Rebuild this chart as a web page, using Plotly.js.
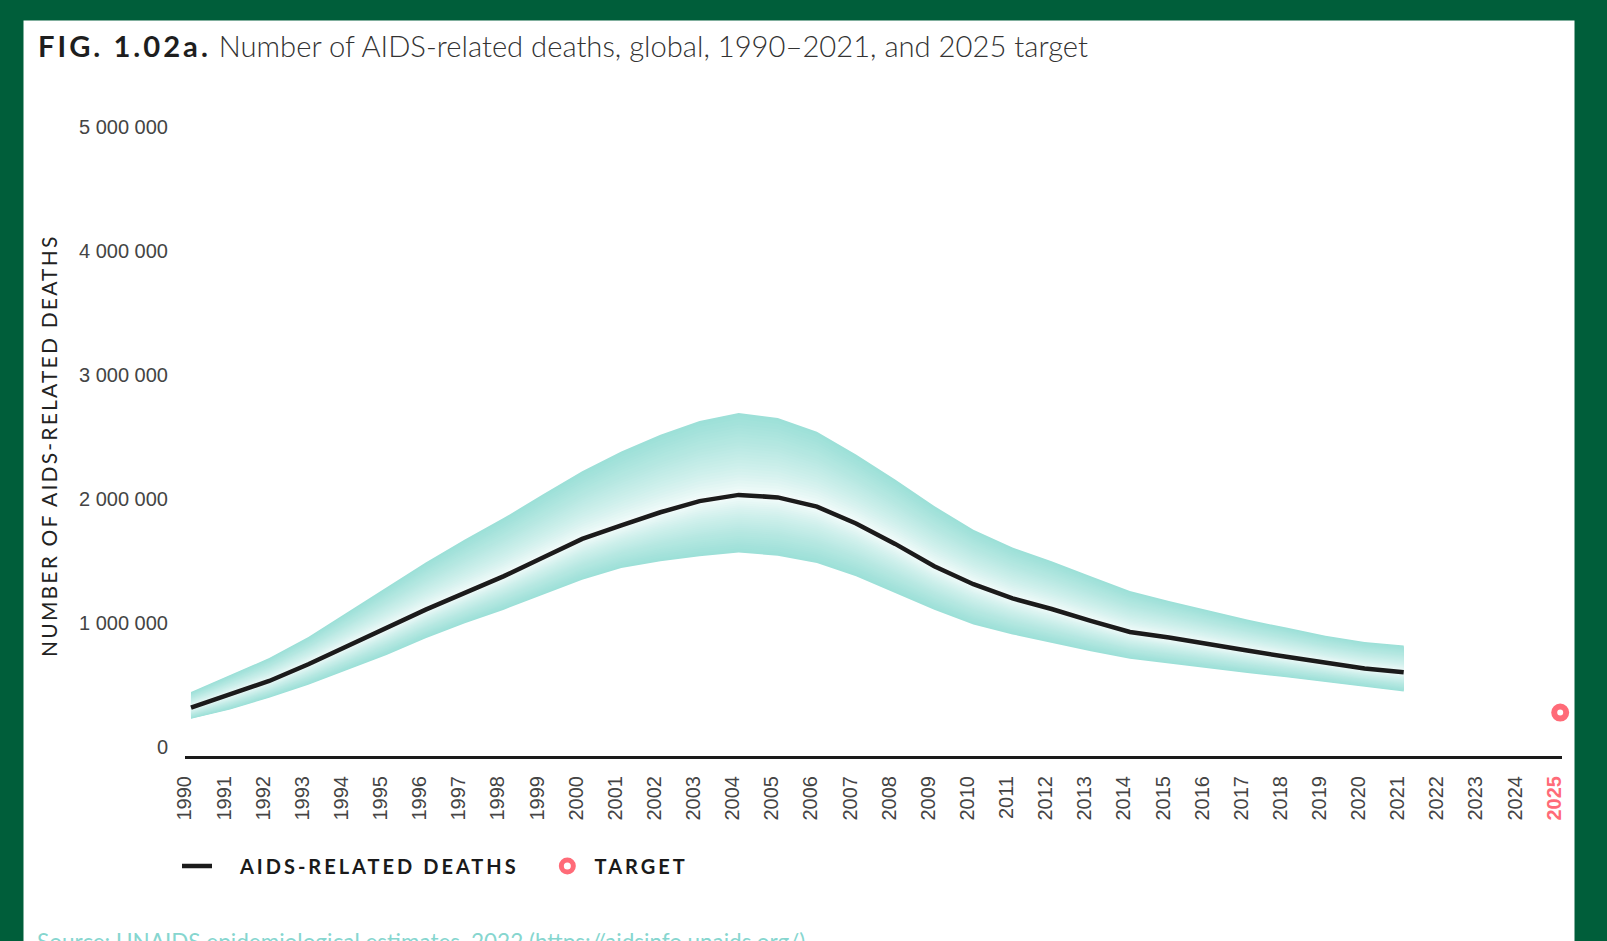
<!DOCTYPE html>
<html>
<head>
<meta charset="utf-8">
<script src="https://cdn.plot.ly/plotly-3.0.1.min.js"></script>
<style>
  html, body { margin: 0; padding: 0; background: #005e3a; }
  #chart { width: 1607px; height: 941px; }
</style>
</head>
<body>
<div id="chart"></div>
<script>
// ---------- DATA ----------
const years = [1990, 1991, 1992, 1993, 1994, 1995, 1996, 1997, 1998, 1999,
               2000, 2001, 2002, 2003, 2004, 2005, 2006, 2007, 2008, 2009,
               2010, 2011, 2012, 2013, 2014, 2015, 2016, 2017, 2018, 2019,
               2020, 2021];
const deaths = [390000, 495000, 605000, 740000, 885000, 1030000, 1180000, 1315000, 1450000, 1600000,
                1750000, 1860000, 1965000, 2055000, 2105000, 2085000, 2010000, 1875000, 1710000, 1530000,
                1385000, 1270000, 1185000, 1090000, 1000000, 955000, 900000, 850000, 800000, 750000,
                705000, 675000];
const deathsUpper = [515000, 650000, 790000, 960000, 1160000, 1360000, 1560000, 1745000, 1920000, 2110000,
                     2295000, 2455000, 2590000, 2700000, 2765000, 2725000, 2615000, 2430000, 2230000, 2015000,
                     1825000, 1680000, 1570000, 1450000, 1330000, 1250000, 1175000, 1100000, 1035000, 970000,
                     920000, 890000];
const deathsLower = [300000, 375000, 470000, 575000, 695000, 815000, 950000, 1070000, 1180000, 1300000,
                     1420000, 1515000, 1570000, 1610000, 1640000, 1615000, 1555000, 1450000, 1315000, 1180000,
                     1060000, 980000, 910000, 845000, 785000, 745000, 710000, 670000, 635000, 600000,
                     560000, 520000];
const extraTickYears = [2022, 2023, 2024, 2025];
const targetYear = [2025];
const targetValue = [350000];
const yTicks = [0, 1000000, 2000000, 3000000, 4000000, 5000000];

// ---------- LAYOUT GEOMETRY ----------
const W = 1607, H = 941;
const M = { l: 185, r: 45, t: 111, b: 185 };
const PW = W - M.l - M.r, PH = H - M.t - M.b;
const px2x = px => (px - M.l) / PW;
const px2y = py => (H - M.b - py) / PH;

const teal = [157, 224, 216];
function mix(s) {
  const f = Math.pow(s, 0.7);
  const c = teal.map(v => Math.round(255 + (v - 255) * f));
  return 'rgb(' + c.join(',') + ')';
}

const traces = [];
const N = 28;
const revYears = years.slice().reverse();
for (let k = 0; k < N; k++) {
  const s = 1 - k / N;
  const up = years.map((_, i) => deaths[i] + (deathsUpper[i] - deaths[i]) * s);
  const lo = years.map((_, i) => deaths[i] - (deaths[i] - deathsLower[i]) * s);
  traces.push({
    x: years.concat(revYears),
    y: up.concat(lo.slice().reverse()),
    type: 'scatter', mode: 'lines', fill: 'toself',
    fillcolor: mix(s), line: { width: 0, color: mix(s) },
    hoverinfo: 'skip', showlegend: false
  });
}

const legendFont = 'font-family:Lato;font-weight:bold;letter-spacing:3px';
traces.push({
  x: years, y: deaths, type: 'scatter', mode: 'lines',
  name: '<span style="' + legendFont + '">&nbsp;&nbsp;&nbsp;AIDS-RELATED DEATHS&nbsp;&nbsp;&nbsp;</span>',
  line: { color: '#1b1b1b', width: 4.5 }
});
traces.push({
  x: targetYear, y: targetValue, type: 'scatter', mode: 'markers',
  name: '<span style="' + legendFont + '">&nbsp;TARGET</span>',
  cliponaxis: false,
  marker: { symbol: 'circle', size: 12, color: '#ffffff', line: { color: '#ff6b78', width: 6 } }
});

const tickYears = years.concat(extraTickYears);
const tickText = tickYears.map(y => y === 2025
  ? '<span style="font-weight:bold;fill:#ff6b78">' + y + '</span>' : String(y));

const layout = {
  width: W, height: H,
  margin: { l: M.l, r: M.r, t: M.t, b: M.b, autoexpand: false },
  paper_bgcolor: '#005e3a',
  plot_bgcolor: 'rgba(0,0,0,0)',
  separators: '. ',
  font: { family: 'Liberation Sans, Arial, sans-serif', color: '#444' },
  shapes: [{
    type: 'rect', xref: 'paper', yref: 'paper', layer: 'below',
    x0: px2x(23.5), x1: px2x(1574.5), y0: px2y(H + 10), y1: px2y(20.5),
    fillcolor: '#ffffff', line: { width: 0 }
  }],
  title: {
    text: '<span style="font-weight:bold;letter-spacing:3px;fill:#1e1e1e">FIG. 1.02a.</span> Number of AIDS-related deaths, global, 1990–2021, and 2025 target',
    font: { family: 'Lato', size: 29.2, weight: 300, color: '#333' },
    xref: 'container', yref: 'container',
    x: 38 / W, xanchor: 'left', y: 1 - 47 / H, yanchor: 'middle'
  },
  xaxis: {
    range: [1989.847, 2025.046],
    showgrid: false, zeroline: false,
    showline: true, linecolor: '#1a1a1a', linewidth: 3,
    tickmode: 'array', tickvals: tickYears, ticktext: tickText,
    tickangle: -90, ticks: '', ticklabelstandoff: 9, ticklabelshift: -6,
    tickfont: { family: 'Liberation Sans, Arial', size: 20, color: '#444' },
    fixedrange: true
  },
  yaxis: {
    range: [0, 5200000],
    showgrid: false, zeroline: false, showline: false,
    tickmode: 'array', tickvals: yTicks, tickformat: ',d',
    ticks: '', ticklabelstandoff: 16, ticklabelshift: -9,
    tickfont: { family: 'Liberation Sans, Arial', size: 20, color: '#444' },
    fixedrange: true
  },
  showlegend: true,
  legend: {
    orientation: 'h', x: px2x(177), xanchor: 'left', y: px2y(866), yanchor: 'middle',
    font: { family: 'Lato', size: 20, color: '#1a1a1a' },
    bgcolor: 'rgba(0,0,0,0)', traceorder: 'normal'
  },
  annotations: [
    {
      text: '<span style="letter-spacing:2.2px">NUMBER OF AIDS-RELATED DEATHS</span>',
      textangle: -90, xref: 'paper', yref: 'paper',
      x: px2x(48), y: px2y(446), xanchor: 'center', yanchor: 'middle',
      showarrow: false, font: { family: 'Lato', size: 21, color: '#222' }
    },
    {
      text: 'Source: UNAIDS epidemiological estimates, 2022 (https://aidsinfo.unaids.org/).',
      xref: 'paper', yref: 'paper', x: px2x(35), y: px2y(926),
      xanchor: 'left', yanchor: 'top', showarrow: false,
      font: { family: 'Lato', size: 22.5, color: '#86d6cf' }
    }
  ]
};

Plotly.newPlot('chart', traces, layout, { displayModeBar: false, staticPlot: true });
</script>
</body>
</html>
